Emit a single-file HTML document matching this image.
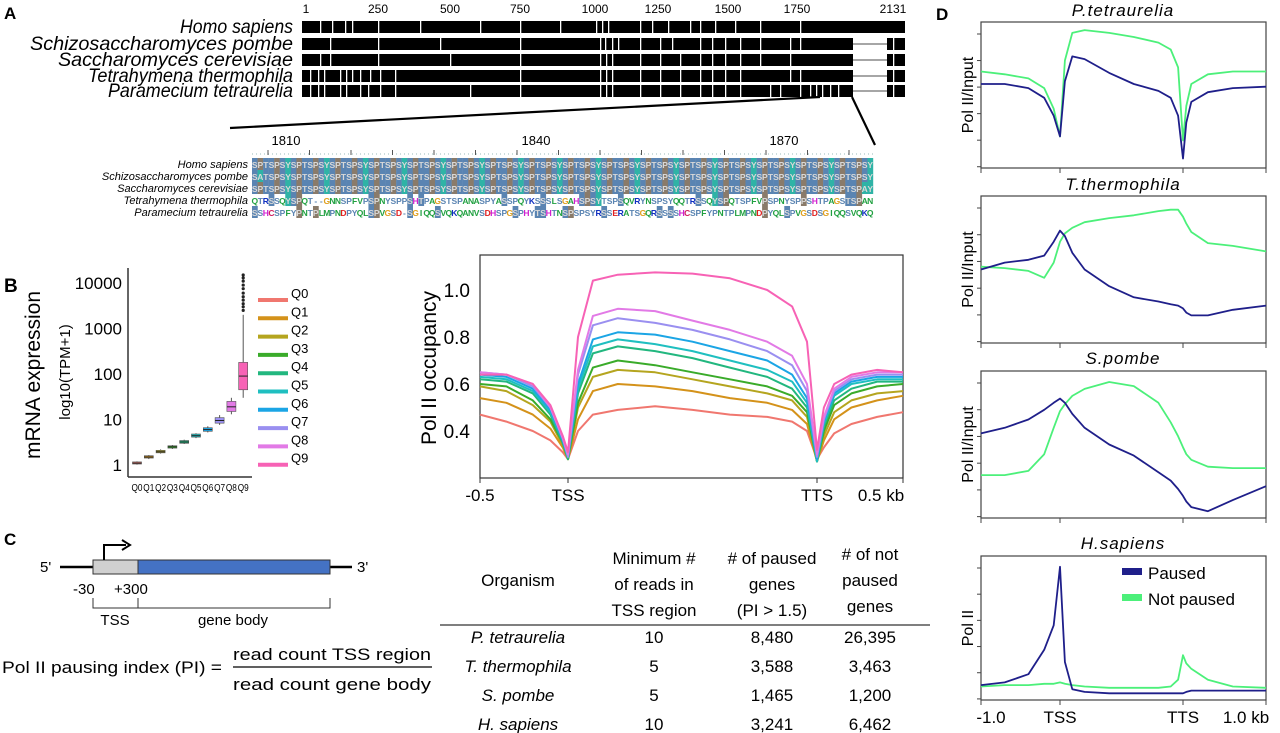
<!DOCTYPE html>
<html><head><meta charset="utf-8"><style>
html,body{margin:0;padding:0;background:#fff;}
svg{display:block;font-family:"Liberation Sans",sans-serif;}
</style></head><body>
<svg id="fig" width="1280" height="733" viewBox="0 0 1280 733" xmlns="http://www.w3.org/2000/svg">
<g id="pA">
<text x="4" y="19" font-size="17" font-weight="bold">A</text>
</g>
<g id="pB">
<text x="4" y="292" font-size="19" font-weight="bold">B</text>
</g>
<g id="pC">
<text x="4" y="545" font-size="17" font-weight="bold">C</text>
</g>
<g id="pD">
<text x="936" y="20" font-size="17" font-weight="bold">D</text>
</g>
</svg>
<script>
// ===== Panel B boxplot data =====
const boxCats = ["Q0","Q1","Q2","Q3","Q4","Q5","Q6","Q7","Q8","Q9"];
const boxMed = [1.1,1.5,1.95,2.5,3.2,4.4,6,9.5,19,90];
const boxQ1 = [1.05,1.42,1.85,2.35,3.0,4.1,5.5,8.3,15,45];
const boxQ3 = [1.17,1.6,2.1,2.65,3.45,4.8,6.6,11,25,180];
const boxLo = [1.02,1.35,1.78,2.25,2.9,3.9,5.2,7.6,13,30];
const boxHi = [1.2,1.65,2.2,2.75,3.6,5.0,7.1,12.5,30,2000];
const q9Outliers = [2500,3000,3500,4200,5000,6000,7500,9000,11000,13000,15000];
const boxTicks = [1,10,100,1000,10000];
const qColors = ["#f0776f","#d4921a","#b5a51f","#3aab2a","#22b77f","#1fbfc0","#1ba5e5","#9a8ff0","#e27ae6","#f762b5"];
// ===== Panel B metaplot data =====
const metaX = [-0.5,-0.35,-0.2,-0.1,-0.03,0,0.04,0.1,0.2,0.35,0.5,0.65,0.8,0.9,0.96,1.0,1.04,1.1,1.2,1.35,1.5];
const metaQ0 = [0.47,0.44,0.40,0.36,0.31,0.28,0.40,0.47,0.49,0.505,0.49,0.47,0.46,0.44,0.40,0.28,0.33,0.39,0.43,0.46,0.48];
const metaQ1 = [0.54,0.52,0.47,0.41,0.33,0.28,0.45,0.57,0.60,0.59,0.57,0.54,0.52,0.49,0.43,0.27,0.36,0.45,0.50,0.53,0.55];
const metaQ2 = [0.59,0.57,0.51,0.44,0.34,0.28,0.50,0.63,0.66,0.65,0.62,0.59,0.56,0.53,0.46,0.27,0.38,0.48,0.53,0.56,0.57];
const metaQ3 = [0.60,0.59,0.53,0.45,0.35,0.28,0.52,0.67,0.70,0.68,0.65,0.62,0.59,0.55,0.48,0.27,0.40,0.51,0.56,0.59,0.60];
const metaQ4 = [0.62,0.61,0.56,0.47,0.35,0.28,0.56,0.73,0.76,0.74,0.71,0.67,0.63,0.58,0.50,0.27,0.42,0.53,0.58,0.61,0.61];
const metaQ5 = [0.63,0.62,0.57,0.48,0.36,0.29,0.58,0.76,0.79,0.77,0.74,0.70,0.66,0.61,0.52,0.27,0.43,0.55,0.60,0.62,0.62];
const metaQ6 = [0.64,0.63,0.58,0.49,0.36,0.29,0.60,0.79,0.82,0.81,0.78,0.74,0.70,0.64,0.54,0.28,0.44,0.56,0.61,0.63,0.63];
const metaQ7 = [0.65,0.64,0.59,0.50,0.37,0.29,0.64,0.85,0.88,0.86,0.83,0.79,0.74,0.68,0.57,0.29,0.45,0.57,0.62,0.64,0.64];
const metaQ8 = [0.65,0.64,0.60,0.50,0.37,0.30,0.66,0.89,0.92,0.91,0.87,0.83,0.78,0.72,0.60,0.30,0.46,0.58,0.63,0.65,0.65];
const metaQ9 = [0.64,0.64,0.60,0.51,0.38,0.31,0.80,1.04,1.065,1.075,1.07,1.05,1.00,0.93,0.78,0.32,0.50,0.60,0.64,0.66,0.65];
const metaYTicks = [0.4,0.6,0.8,1.0];
// ===== Panel D data =====
const dX = [-1,-0.7,-0.4,-0.2,-0.08,0,0.04,0.1,0.2,0.4,0.6,0.8,0.9,0.96,1.0,1.04,1.1,1.3,1.6,2.0];
const dTitles = ["P.tetraurelia","T.thermophila","S.pombe","H.sapiens"];
const pausedPtet = [0.58,0.58,0.55,0.48,0.35,0.20,0.60,0.78,0.76,0.66,0.58,0.53,0.48,0.35,0.04,0.30,0.45,0.52,0.55,0.56];
const notPausedPtet = [0.67,0.65,0.62,0.55,0.40,0.20,0.75,0.95,0.97,0.95,0.92,0.88,0.83,0.70,0.17,0.42,0.58,0.65,0.67,0.67];
const pausedTth = [0.50,0.55,0.57,0.60,0.70,0.78,0.74,0.62,0.50,0.38,0.30,0.27,0.25,0.24,0.22,0.19,0.17,0.17,0.21,0.24];
const notPausedTth = [0.52,0.51,0.49,0.44,0.55,0.70,0.76,0.80,0.84,0.87,0.89,0.92,0.93,0.93,0.88,0.83,0.77,0.69,0.67,0.63];
const pausedSpo = [0.58,0.62,0.68,0.75,0.80,0.83,0.80,0.72,0.62,0.50,0.42,0.30,0.24,0.18,0.13,0.09,0.05,0.02,0.10,0.20];
const notPausedSpo = [0.28,0.28,0.31,0.43,0.62,0.74,0.79,0.85,0.90,0.95,0.92,0.80,0.66,0.56,0.48,0.43,0.39,0.34,0.33,0.33];
const pausedHsa = [0.08,0.10,0.16,0.34,0.52,0.95,0.25,0.05,0.03,0.02,0.02,0.02,0.02,0.02,0.02,0.03,0.04,0.04,0.04,0.04];
const notPausedHsa = [0.07,0.08,0.08,0.09,0.09,0.10,0.09,0.08,0.07,0.06,0.06,0.06,0.07,0.12,0.30,0.24,0.20,0.12,0.07,0.06];
// ===== Panel C table data =====
const tblOrg = ["P. tetraurelia","T. thermophila","S. pombe","H. sapiens"];
const tblMin = ["10","5","5","10"];
const tblPaused = ["8,480","3,588","1,465","3,241"];
const tblNot = ["26,395","3,463","1,200","6,462"];

const NS="http://www.w3.org/2000/svg";
function mk(parent, tag, attrs, text){
  const e=document.createElementNS(NS,tag);
  for(const k in attrs) e.setAttribute(k,attrs[k]);
  if(text!==undefined) e.textContent=text;
  parent.appendChild(e); return e;
}
const pA=document.getElementById('pA'), pB=document.getElementById('pB'), pC=document.getElementById('pC'), pD=document.getElementById('pD');

// ================= PANEL A =================
const species=["Homo sapiens","Schizosaccharomyces pombe","Saccharomyces cerevisiae","Tetrahymena thermophila","Paramecium tetraurelia"];
const speciesLen=[113,263,235,205,185];
const rowY=[27,44,60,76,91];
const posTicks=["1","250","500","750","1000","1250","1500","1750","2131"];
const posTickX=[306,378,450,520,595,658,728,797,893];
posTicks.forEach((t,i)=>{
  const e=mk(pA,'text',{x:posTickX[i],y:13,'font-size':12,'text-anchor':'middle'},t);
  
  
});
const gapSets=[
 [320,332,345,352,378,420,480,520,560,596,602,608,640,652,668,690,700,715,735,760,800],
 [330,378,440,520,600,605,612,618,640,660,672,700,712,725,740,760,790,800],
 [320,330,378,450,520,600,606,612,640,660,680,700,712,725,740,760,790],
 [310,318,324,340,346,352,360,370,380,395,520,600,606,612,640,660,680,700,712,725,740,790,800],
 [310,318,324,340,346,360,368,380,395,470,520,600,606,612,640,660,680,700,712,725,740,770,780,800,810,816,822,830,838]
];
species.forEach((s,i)=>{
  const y=rowY[i];
  const t=mk(pA,'text',{x:293-speciesLen[i],y:y+6,'font-size':19,'font-style':'italic',textLength:speciesLen[i],lengthAdjust:'spacingAndGlyphs'},s);
  
  
  const end = i===0?905:853;
  const r=mk(pA,'rect',{x:302,y:y-6,width:end-302,height:12,fill:'#000'});
  
  
  gapSets[i].forEach(g=>{ mk(pA,'rect',{x:g,y:y-6,width:1.3,height:12,fill:'#fff'}); });
  if(i>0){
    mk(pA,'line',{x1:853,y1:y,x2:887,y2:y,stroke:'#888','stroke-width':1.5});
    const r2=mk(pA,'rect',{x:887,y:y-6,width:18,height:12,fill:'#000'});
    
    
    mk(pA,'rect',{x:893,y:y-6,width:1.3,height:12,fill:'#fff'});
  }
});
mk(pA,'line',{x1:820,y1:97,x2:230,y2:128,stroke:'#000','stroke-width':2.2});
mk(pA,'line',{x1:852,y1:97,x2:875,y2:145,stroke:'#000','stroke-width':2.2});
const alTicks=["1810","1840","1870"], alTickX=[286,536,784];
alTicks.forEach((t,i)=>{
  const e=mk(pA,'text',{x:alTickX[i],y:145,'font-size':13,'text-anchor':'middle'},t);
  
  
});
mk(pA,'line',{x1:252,y1:154,x2:873,y2:154,stroke:'#9bb','stroke-width':1,'stroke-dasharray':'1 3'});
for(let x=268;x<873;x+=41.5) mk(pA,'line',{x1:x,y1:150,x2:x,y2:155,stroke:'#555','stroke-width':1});
let rep="";for(let k=0;k<15;k++)rep+="TSPSYSP";
const seqs=[
 "SP"+rep+"TSPSY",
 "SA"+rep+"TSPSY",
 "SP"+rep.slice(0,-7)+"TSPSYSPTSPAY",
 "QTRSSQYSPQT--GNNSPFVPSPNYSPPSHTPAGSTSPANASPYASSPQYKSSSLSGAHSPSYTSPSQVRYNSPSYQQTRSSQYSPQTSPFVPSPNYSPPSHTPAGSTSPANASPY",
 "SSHCSPFYPNTPLMPNDPYQLSPVGSD-SGIQQSVQKQANVSDHSPGSPHYTSHTNSPSPSYRSSERATSGQRSSSSHCSPFYPNTPLMPNDPYQLSPVGSDSGIQQSVQKQAN"
];
const alLabY=[164,176,188,200,212];
const N=112, cw=621/N;
const txtCol={R:'#1030c0',K:'#1030c0',H:'#d020d0',D:'#e02020',E:'#e02020',G:'#e0a020',N:'#20a040',Q:'#20a040',L:'#20a040',M:'#20a040',V:'#20a040',I:'#20a040',F:'#20a040',A:'#20a040',C:'#d02060',W:'#20a040'};
species.forEach((s,i)=>{
  const t=mk(pA,'text',{x:248,y:alLabY[i]+4,'font-size':11,'font-style':'italic','text-anchor':'end'},s);
  
  
  const seq=seqs[i].slice(0,N);
  const ref=seqs[0];
  for(let j=0;j<seq.length;j++){
    const c=seq[j], x=252+j*cw, y=alLabY[i]-6;
    let bg=null, fg='#888';
    const match = i<3 || c===ref[j];
    if(match && c!=='-'){
      if(c==='S'||c==='T') bg='#5a84b2';
      else if(c==='P') bg='#8a7b6a';
      else if(c==='Y'||c==='A') bg='#2fb3a6';
      else bg='#6a82a8';
      fg='#d8d8d8';
    } else fg = txtCol[c]||'#5a84b2';
    if(bg) mk(pA,'rect',{x:x,y:y,width:cw+0.2,height:12,fill:bg});
    mk(pA,'text',{x:x+cw/2,y:y+10,'font-size':8.5,'text-anchor':'middle',fill:fg,'font-weight':'bold'},c);
  }
});

// ================= PANEL B boxplot =================
const bx0=128, bxBase=477;
const yLog=v=>465-45.5*Math.log10(v);
const xBox=i=>137+i*11.8;
mk(pB,'line',{x1:bx0,y1:268,x2:bx0,y2:bxBase,stroke:'#333','stroke-width':1.5});
mk(pB,'line',{x1:bx0,y1:bxBase,x2:252,y2:bxBase,stroke:'#333','stroke-width':1.5});
boxTicks.forEach(v=>{
  const e=mk(pB,'text',{x:122,y:yLog(v)+6,'font-size':17,'text-anchor':'end'},String(v));
  
  
});
let t=mk(pB,'text',{x:0,y:0,'font-size':21,'text-anchor':'middle',transform:'translate(40,375) rotate(-90)'},'mRNA expression');


t=mk(pB,'text',{x:0,y:0,'font-size':15,'text-anchor':'middle',transform:'translate(70,372) rotate(-90)'},'log10(TPM+1)');


boxCats.forEach((c,i)=>{
  const x=xBox(i), col=qColors[i];
  mk(pB,'line',{x1:x,y1:yLog(boxLo[i]),x2:x,y2:yLog(boxHi[i]),stroke:'#555','stroke-width':1});
  const b=mk(pB,'rect',{x:x-4.5,y:yLog(boxQ3[i]),width:9,height:Math.max(2,yLog(boxQ1[i])-yLog(boxQ3[i])),fill:col,stroke:'#555','stroke-width':0.6});
  
  
  mk(pB,'line',{x1:x-4.5,y1:yLog(boxMed[i]),x2:x+4.5,y2:yLog(boxMed[i]),stroke:'#222','stroke-width':1});
  const l=mk(pB,'text',{x:x-5.5,y:491,'font-size':10,textLength:11,lengthAdjust:'spacingAndGlyphs'},c);
  
  
});
q9Outliers.forEach(v=>{
  const d=mk(pB,'circle',{cx:xBox(9),cy:yLog(v),r:1.6,fill:'#222'});
  
  
});
boxCats.forEach((c,i)=>{
  const y=300+i*18.3;
  const s=mk(pB,'line',{x1:258,y1:y,x2:288,y2:y,stroke:qColors[i],'stroke-width':4});
  
  
  const e=mk(pB,'text',{x:291,y:y-2,'font-size':13},c);
  
  
});

// ================= PANEL B metaplot =================
const mL=480, mR=903, mT=255, mBt=478;
const mxs=u=> u<0 ? 568+u/0.5*88 : (u<=1 ? 568+u*249 : 817+(u-1)/0.5*86);
const mys=v=>290+(1.0-v)*235;
mk(pB,'rect',{x:mL,y:mT,width:mR-mL,height:mBt-mT,fill:'none',stroke:'#333','stroke-width':1.2});
metaYTicks.forEach(v=>{
  const e=mk(pB,'text',{x:470,y:mys(v)+7,'font-size':19,'text-anchor':'end'},v.toFixed(1));
  
  
});
t=mk(pB,'text',{x:0,y:0,'font-size':21,'text-anchor':'middle',transform:'translate(436,368) rotate(-90)'},'Pol II occupancy');


const metaTickLab=["-0.5","TSS","TTS","0.5 kb"], metaTickU=[-0.5,0,1,1.5];
metaTickLab.forEach((s,i)=>{
  const x=mxs(metaTickU[i]);
  mk(pB,'line',{x1:x,y1:mBt,x2:x,y2:mBt+5,stroke:'#333'});
  const e=mk(pB,'text',{x:i===3?x-22:x,y:mBt+23,'font-size':17,'text-anchor':'middle'},s);
  
  
});
const metaSeries=[metaQ0,metaQ1,metaQ2,metaQ3,metaQ4,metaQ5,metaQ6,metaQ7,metaQ8,metaQ9];
metaSeries.forEach((arr,i)=>{
  const pts=arr.map((v,j)=>mxs(metaX[j]).toFixed(1)+','+mys(v).toFixed(1)).join(' ');
  const p=mk(pB,'polyline',{points:pts,fill:'none',stroke:qColors[i],'stroke-width':2,'stroke-linejoin':'round'});
  
  
});

// ================= PANEL C =================
mk(pC,'line',{x1:60,y1:567,x2:93,y2:567,stroke:'#000','stroke-width':2.5});
mk(pC,'line',{x1:330,y1:567,x2:352,y2:567,stroke:'#000','stroke-width':2.5});
let r=mk(pC,'rect',{x:93,y:560,width:45,height:14,fill:'#d0d0d0',stroke:'#333','stroke-width':1});

r=mk(pC,'rect',{x:138,y:560,width:192,height:14,fill:'#4472c4',stroke:'#333','stroke-width':1});

mk(pC,'path',{d:'M104 560 V545 H126',fill:'none',stroke:'#000','stroke-width':2});
mk(pC,'path',{d:'M122 540 L130 545 L122 550',fill:'none',stroke:'#000','stroke-width':2});
[["5'",40,572],["3'",357,572],["-30",73,594],["+300",114,594]].forEach(a=>{
  const e=mk(pC,'text',{x:a[1],y:a[2],'font-size':15},a[0]);
  
});
mk(pC,'path',{d:'M93 598 V608 H330 V598 M138 598 V608',fill:'none',stroke:'#333','stroke-width':1});
[["TSS",115,625],["gene body",233,625]].forEach(a=>{
  const e=mk(pC,'text',{x:a[1],y:a[2],'font-size':15,'text-anchor':'middle'},a[0]);
  
});
t=mk(pC,'text',{x:2,y:673,'font-size':17,textLength:220,lengthAdjust:'spacingAndGlyphs'},'Pol II pausing index (PI) =');

t=mk(pC,'text',{x:233,y:660,'font-size':17,textLength:198,lengthAdjust:'spacingAndGlyphs'},'read count TSS region');

mk(pC,'line',{x1:233,y1:667,x2:432,y2:667,stroke:'#000','stroke-width':1.2});
t=mk(pC,'text',{x:233,y:690,'font-size':17,textLength:198,lengthAdjust:'spacingAndGlyphs'},'read count gene body');

const colX=[518,654,772,870];
const heads=[["Organism"],["Minimum #","of reads in","TSS region"],["# of paused","genes","(PI > 1.5)"],["# of not","paused","genes"]];
heads.forEach((h,c)=>{
  h.forEach((line,k)=>{
    const yy = c===3 ? 560+k*26 : (c===0?586:564+k*26);
    const e=mk(pC,'text',{x:colX[c],y:yy,'font-size':17,'text-anchor':'middle'},line);
    
  });
});
mk(pC,'line',{x1:440,y1:625,x2:930,y2:625,stroke:'#555','stroke-width':1.5});
tblOrg.forEach((o,i)=>{
  const y=643+i*29;
  const cells=[o,tblMin[i],tblPaused[i],tblNot[i]];
  cells.forEach((v,c)=>{
    const e=mk(pC,'text',{x:colX[c],y:y,'font-size':17,'text-anchor':'middle','font-style':c===0?'italic':'normal'},v);
    
  });
});

// ================= PANEL D =================
const dL=981, dR=1266;
const frames=[[22,168],[196,343],[371,518],[556,700]];
const dxs=u=> u<=0 ? 1060+u*79 : (u<=1 ? 1060+u*123 : 1183+(u-1)*83);
const pausedSets=[pausedPtet,pausedTth,pausedSpo,pausedHsa];
const notSets=[notPausedPtet,notPausedTth,notPausedSpo,notPausedHsa];
const titleY=[16,190,364,549];
frames.forEach((f,k)=>{
  const [top,bot]=f, h=bot-top;
  const dys=v=>bot-4-v*(h-8);
  const tt=mk(pD,'text',{x:1123,y:titleY[k],'font-size':17,'font-style':'italic','text-anchor':'middle','letter-spacing':'1'},dTitles[k]);
  
  mk(pD,'rect',{x:dL,y:top,width:dR-dL,height:h,fill:'none',stroke:'#444','stroke-width':1.2});
  for(let y=top+12;y<bot;y+=h/5.5) mk(pD,'line',{x1:dL-4,y1:y,x2:dL,y2:y,stroke:'#444'});
  [-1,0,1,2].forEach(u=>mk(pD,'line',{x1:dxs(u),y1:bot,x2:dxs(u),y2:bot+5,stroke:'#444'}));
  const yt=mk(pD,'text',{x:0,y:0,'font-size':16,'text-anchor':'middle',transform:`translate(973,${(top+bot)/2}) rotate(-90)`},k===3?'Pol II':'Pol II/Input');
  
  const gp=mk(pD,'polyline',{points:notSets[k].map((v,j)=>dxs(dX[j]).toFixed(1)+','+dys(v).toFixed(1)).join(' '),fill:'none',stroke:'#4cf07a','stroke-width':1.8,'stroke-linejoin':'round'});
  
  const bp=mk(pD,'polyline',{points:pausedSets[k].map((v,j)=>dxs(dX[j]).toFixed(1)+','+dys(v).toFixed(1)).join(' '),fill:'none',stroke:'#1f1f8a','stroke-width':1.8,'stroke-linejoin':'round'});
  
});
const dTick=["-1.0","TSS","TTS","1.0 kb"], dTickU=[-1,0,1,2];
dTick.forEach((s,i)=>{
  const x=dxs(dTickU[i]);
  const e=mk(pD,'text',{x:i===0?x+10:(i===3?x-20:x),y:723,'font-size':17,'text-anchor':'middle'},s);
  
});
let lg=mk(pD,'rect',{x:1122,y:568,width:20,height:7,fill:'#1f1f8a'});

lg=mk(pD,'rect',{x:1122,y:594,width:20,height:7,fill:'#4cf07a'});

lg=mk(pD,'text',{x:1148,y:579,'font-size':17},'Paused');

lg=mk(pD,'text',{x:1148,y:605,'font-size':17},'Not paused');

</script>
</body></html>
